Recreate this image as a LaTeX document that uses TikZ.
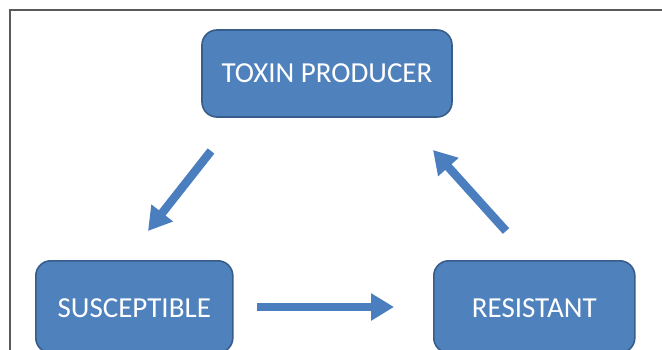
\documentclass[tikz,border=0pt]{standalone}
\usepackage{fontspec}
\setmainfont{Carlito}
\usetikzlibrary{arrows.meta}
\definecolor{boxfill}{HTML}{4F81BD}
\definecolor{boxline}{HTML}{385D8A}
\definecolor{arrfill}{HTML}{4A7EBF}
\definecolor{framec}{HTML}{5A5A5A}
\tikzset{
  box/.style={draw=boxline, line width=1.6pt, fill=boxfill, rounded corners=15pt,
    text=white, font=\fontsize{29}{34}\selectfont, inner sep=0pt},
  boxtext/.style={text=white, font=\fontsize{29}{34}\selectfont},
  blockarrow/.style={draw=arrfill, line width=8.5pt,
    -{Triangle[width=26pt,length=23pt]}, arrfill}
}
\begin{document}
\begin{tikzpicture}[x=1pt,y=-1pt]
\useasboundingbox (0,0) rectangle (662,350);
\fill[white] (0,0) rectangle (662,350);
\begin{scope}
\clip (0,0) rectangle (662,350);
\draw[framec, line width=1.2pt] (10,360) -- (10,10) -- (670,10);
\node[box, minimum width=250pt, minimum height=87pt] (top) at (327,73.5) {TOXIN PRODUCER};
\node[box, minimum width=197pt, minimum height=92pt, anchor=north west] (sus) at (35,260) {};
\node[box, minimum width=201pt, minimum height=92pt, anchor=north west] (res) at (433,260) {};
\node[boxtext] (sustext) at ([yshift=-1pt]sus.center) {SUSCEPTIBLE};
\node[boxtext] (restext) at ([yshift=-1pt]res.center) {RESISTANT};
\coordinate (a1s) at (211,151);
\coordinate (a1e) at (148,231);
\coordinate (a2s) at (257,307);
\coordinate (a2e) at (394,307);
\coordinate (a3s) at (506,231);
\coordinate (a3e) at (433,150);
\draw[blockarrow] (a1s) -- (a1e);
\draw[blockarrow] (a2s) -- (a2e);
\draw[blockarrow] (a3s) -- (a3e);
\end{scope}
\end{tikzpicture}
\end{document}
